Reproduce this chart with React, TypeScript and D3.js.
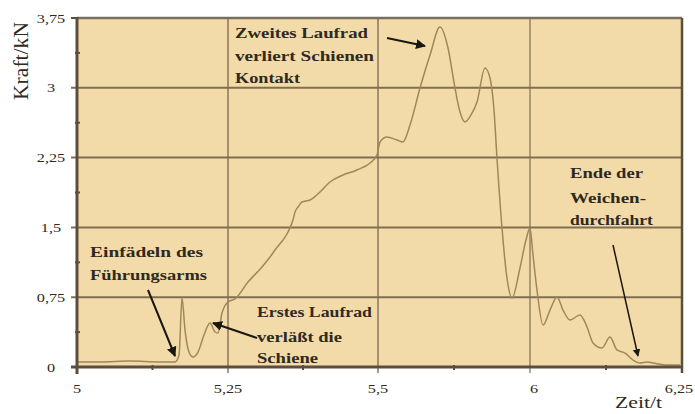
import React from "react";
import * as d3 from "d3";

const timeValues = [
  5.0017, 5.0381, 5.0877, 5.1374, 5.1623, 5.1689, 5.1738, 5.1788, 5.1854, 5.1921,
  5.2003, 5.2103, 5.2202, 5.2285, 5.2334, 5.2401, 5.25, 5.2617, 5.2833, 5.3067,
  5.32, 5.3283, 5.35, 5.3583, 5.3617, 5.3667, 5.3733, 5.3867, 5.4033, 5.42,
  5.4417, 5.465, 5.4867, 5.4983, 5.5066, 5.5296, 5.5625, 5.5822, 5.6053, 5.6382,
  5.6711, 5.7039, 5.7303, 5.7533, 5.7697, 5.7862, 5.8059, 5.8257, 5.852, 5.8684,
  5.8816, 5.8914, 5.9079, 5.9243, 5.9408, 5.9671, 5.9868, 6.0, 6.0049, 6.0115,
  6.0214, 6.0329, 6.0444, 6.0543, 6.0658, 6.0822, 6.0938, 6.1036, 6.1184, 6.1316,
  6.1431, 6.1563, 6.1694, 6.1809, 6.1924, 6.2023, 6.2253, 6.2467,
];
const forceValues = [
  0.054, 0.054, 0.064, 0.054, 0.054, 0.129, 0.741, 0.398, 0.161, 0.107,
  0.161, 0.344, 0.473, 0.376, 0.365, 0.58, 0.698, 0.731, 0.913, 1.075,
  1.182, 1.257, 1.451, 1.58, 1.665, 1.719, 1.773, 1.794, 1.88, 1.988,
  2.063, 2.117, 2.192, 2.278, 2.418, 2.471, 2.439, 2.418, 2.6, 2.998,
  3.352, 3.653, 3.428, 2.998, 2.74, 2.633, 2.708, 2.847, 3.213, 3.105,
  2.761, 2.246, 1.494, 0.956, 0.741, 1.064, 1.365, 1.494, 1.203, 0.827,
  0.451, 0.612, 0.752, 0.612, 0.505, 0.559, 0.43, 0.258, 0.204, 0.322,
  0.183, 0.15, 0.075, 0.043, 0.054, 0.043, 0.021, 0.021,
];
const xTicks = [5, 5.25, 5.5, 6, 6.25];
const xTickLabels = ["5", "5,25", "5,5", "6", "6,25"];
const yTicks = [0, 0.75, 1.5, 2.25, 3, 3.75];
const yTickLabels = ["0", "0,75", "1,5", "2,25", "3", "3,75"];

const W = 695;
const H = 414;
const L = 77, R = 682, T = 18, B = 367;

const BG = "#f3dba9";
const GRID = "#7f6f52";
const AXIS = "#5a4f3e";
const CURVE = "#a08659";
const TEXT = "#2f2a21";
const SX = 1.25;

function Label({ x, y, children, size = 15, weight = "bold", anchor = "start", len }: any) {
  return (
    <text
      transform={`translate(${x},${y}) scale(${SX},1)`}
      fontFamily="'Liberation Serif', 'Times New Roman', serif"
      fontSize={size}
      fontWeight={weight}
      fill={TEXT}
      textAnchor={anchor}
      textLength={len ? len / SX : undefined}
      lengthAdjust={len ? "spacingAndGlyphs" : undefined}
    >
      {children}
    </text>
  );
}

export default function App() {
  const x = d3.scaleLinear().domain(xTicks).range([L, 228, 378, 530, R]);
  const y = d3.scaleLinear().domain([0, 3.75]).range([B, T]);
  const data = timeValues.map((t, i) => [t, forceValues[i]] as [number, number]);
  const line = d3
    .line<[number, number]>()
    .x((d) => x(d[0]))
    .y((d) => y(d[1]))
    .curve(d3.curveMonotoneX);

  const xMinor = xTicks.slice(1).map((t, i) => (x(t) + x(xTicks[i])) / 2);
  const yMinor = yTicks.slice(1).map((v, i) => (v + yTicks[i]) / 2);
  const xLabelShift = [0, 0, 0, 4, -3];

  return (
    <svg
      width={W}
      height={H}
      style={{ position: "absolute", left: 0, top: 0, background: "#fff" }}
    >
      <defs>
        <marker id="ah" viewBox="0 0 10 10" refX="9" refY="5" markerWidth="5" markerHeight="5" orient="auto">
          <path d="M0,0 L10,5 L0,10 z" fill="#1a1712" />
        </marker>
      </defs>
      <rect x={L} y={T} width={R - L} height={B - T} fill={BG} />

      {yTicks.slice(1, -1).map((v) => (
        <line key={"h" + v} x1={L - 6} x2={R} y1={y(v)} y2={y(v)} stroke={GRID} strokeWidth={2} />
      ))}
      {xTicks.slice(1, -1).map((t) => (
        <line key={"v" + t} x1={x(t)} x2={x(t)} y1={T} y2={B + 6} stroke={GRID} strokeWidth={t === 6 ? 1.2 : 1.4} />
      ))}

      <path d={line(data) || ""} fill="none" stroke={CURVE} strokeWidth={1.5} />

      <line x1={L} x2={R} y1={T} y2={T} stroke="#7a705f" strokeWidth={2.5} />
      <line x1={R} x2={R} y1={T} y2={B + 6} stroke={AXIS} strokeWidth={2.5} />
      <line x1={L} x2={L} y1={T - 1} y2={B + 7} stroke={AXIS} strokeWidth={3} />
      <line x1={L - 6} x2={R} y1={B} y2={B} stroke={AXIS} strokeWidth={3} />

      <line x1={L - 6} x2={L} y1={T} y2={T} stroke={AXIS} strokeWidth={2} />
      {yMinor.map((v) => (
        <line key={"ym" + v} x1={L - 2} x2={L + 3} y1={y(v)} y2={y(v)} stroke={AXIS} strokeWidth={2} />
      ))}
      {xMinor.map((px) => (
        <line key={"xm" + px} x1={px} x2={px} y1={B - 2} y2={B + 3} stroke={AXIS} strokeWidth={2} />
      ))}

      {yTicks.map((v, i) => (
        <Label key={"yl" + v} x={51} y={y(v) + 4.5} size={13} weight="normal" anchor="middle">
          {yTickLabels[i]}
        </Label>
      ))}
      {xTicks.map((t, i) => (
        <Label key={"xl" + t} x={x(t) + xLabelShift[i]} y={393} size={13} weight="normal" anchor="middle">
          {xTickLabels[i]}
        </Label>
      ))}

      <text
        transform="translate(28,61) rotate(-90) scale(1,1.25)"
        fontFamily="'Liberation Serif', serif"
        fontSize={16}
        fill={TEXT}
        textAnchor="middle"
        textLength={78}
        lengthAdjust="spacingAndGlyphs"
      >
        Kraft/kN
      </text>
      <Label x={615} y={408} size={16} weight="normal" len={47}>Zeit/t</Label>

      <Label x={235} y={38} len={133}>Zweites Laufrad</Label>
      <Label x={235} y={61} len={139}>verliert Schienen</Label>
      <Label x={235} y={83} len={65}>Kontakt</Label>
      <line x1={387} y1={38} x2={425} y2={46} stroke="#1a1712" strokeWidth={2} markerEnd="url(#ah)" />

      <Label x={90} y={257} len={113}>Einfädeln des</Label>
      <Label x={90} y={280} len={117}>Führungsarms</Label>
      <line x1={148} y1={290} x2={175} y2={356} stroke="#1a1712" strokeWidth={2} markerEnd="url(#ah)" />

      <Label x={257} y={317} len={115}>Erstes Laufrad</Label>
      <Label x={257} y={342} len={85}>verläßt die</Label>
      <Label x={257} y={363} len={61}>Schiene</Label>
      <line x1={257} y1={338} x2={213} y2={323} stroke="#1a1712" strokeWidth={2} markerEnd="url(#ah)" />

      <Label x={570} y={178} len={73}>Ende der</Label>
      <Label x={570} y={203} len={76}>Weichen-</Label>
      <Label x={570} y={225} len={83}>durchfahrt</Label>
      <line x1={613} y1={245} x2={638} y2={356} stroke="#1a1712" strokeWidth={1.5} markerEnd="url(#ah)" />
    </svg>
  );
}
